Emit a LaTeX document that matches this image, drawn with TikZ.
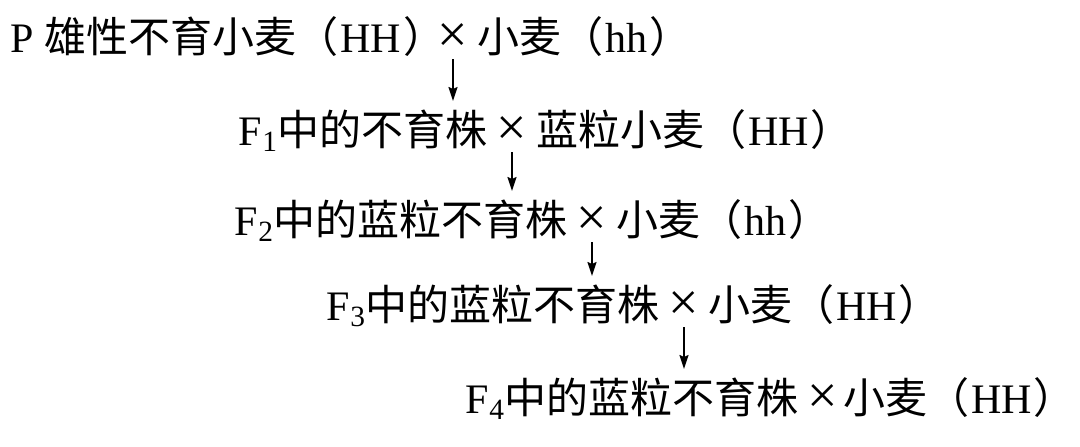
\documentclass[tikz,border=0pt]{standalone}
\usepackage{fontspec}
\setmainfont{Liberation Serif}
\newfontfamily\cjk{Noto Sans CJK SC}
\usetikzlibrary{arrows.meta, positioning}
\newcommand\gt[1]{{\cjk （}\hspace{0.05em}#1\hspace{0.05em}\makebox[0.8em][l]{\cjk ）}}

\begin{document}
\begin{tikzpicture}[
  x=0.5pt, y=0.5pt,
  txt/.style={inner sep=0pt, font=\fontsize{21}{25}\selectfont},
  cross/.style={inner sep=0pt, font=\fontsize{27}{30}\selectfont},
  gen/.style={-{Stealth[length=7pt, width=4.5pt, inset=1pt]}, line width=0.9pt,
              shorten <=3.5pt, shorten >=4pt},
  node distance=4pt,
]
\useasboundingbox (0,0) rectangle (1080,446);

% P generation
\node[cross, anchor=base] (x0) at (453,394) {×};
\node[txt, base left=0pt of x0] (p) {P {\cjk 雄性不育小麦}\gt{HH}};
\node[txt, base right=of x0] (pm) {{\cjk 小麦}\gt{hh}};

% F1
\node[cross, anchor=base] (x1) at (512,301) {×};
\node[txt, base left=of x1] (f1) {F\textsubscript{1}{\cjk 中的不育株}};
\node[txt, base right=of x1] (f1m) {{\cjk 蓝粒小麦}\gt{HH}};

% F2
\node[cross, anchor=base] (x2) at (592,211) {×};
\node[txt, base left=of x2] (f2) {F\textsubscript{2}{\cjk 中的蓝粒不育株}};
\node[txt, base right=of x2] (f2m) {{\cjk 小麦}\gt{hh}};

% F3
\node[cross, anchor=base] (x3) at (684,126) {×};
\node[txt, base left=of x3] (f3) {F\textsubscript{3}{\cjk 中的蓝粒不育株}};
\node[txt, base right=of x3] (f3m) {{\cjk 小麦}\gt{HH}};

% F4
\node[cross, anchor=base] (x4) at (823,33) {×};
\node[txt, base left=of x4] (f4) {F\textsubscript{4}{\cjk 中的蓝粒不育株}};
\node[txt, base right=2pt of x4] (f4m) {{\cjk 小麦}\gt{HH}};

\draw[gen] (x0.south) -- (x0.south |- f1.north);
\draw[gen] (x1.south) -- (x1.south |- f2.north);
\draw[gen] (x2.south) -- (x2.south |- f3.north);
\draw[gen] (x3.south) -- (x3.south |- f4.north);
\end{tikzpicture}
\end{document}
